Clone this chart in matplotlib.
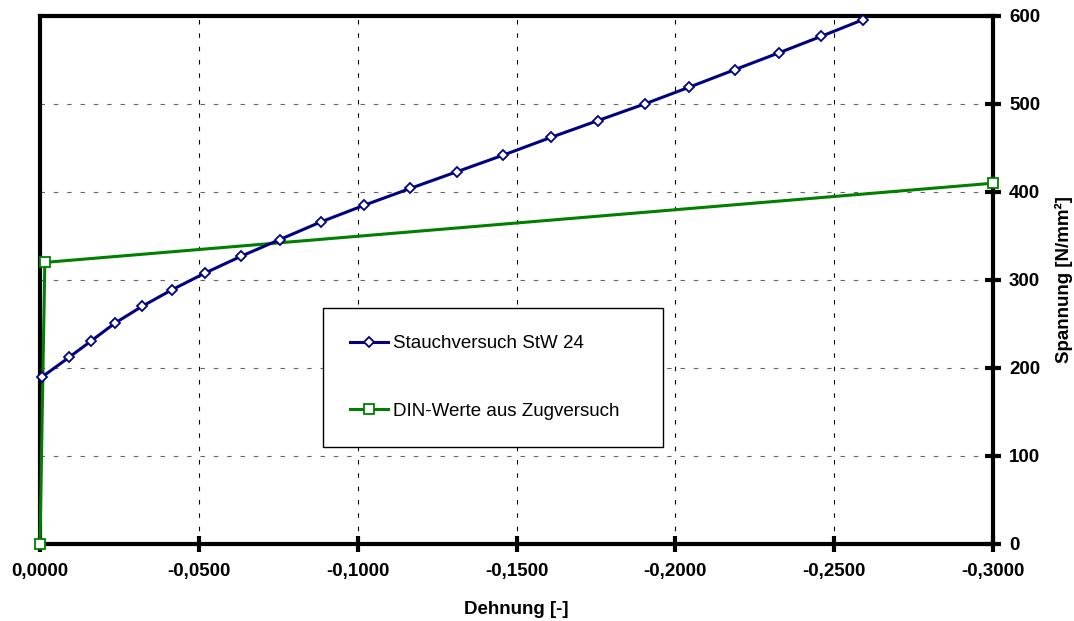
import numpy as np
import matplotlib
matplotlib.use("Agg")
import matplotlib.pyplot as plt
from matplotlib.ticker import FuncFormatter

# Stauchversuch StW 24 (Dehnung [-], Spannung [N/mm²])
dehnung_stauch = [-0.0007, -0.0091, -0.0162, -0.0236, -0.0321, -0.0416, -0.0520,
                  -0.0633, -0.0755, -0.0884, -0.1021, -0.1165, -0.1312, -0.1459,
                  -0.1608, -0.1755, -0.1903, -0.2043, -0.2187, -0.2325, -0.2460,
                  -0.2592]
spannung_stauch = [190, 212, 231, 251, 270, 289, 308, 327, 346, 366, 385, 404,
                   423, 442, 462, 481, 500, 519, 539, 558, 577, 596]

# DIN-Werte aus Zugversuch
dehnung_din = [0.0, -0.00152, -0.3]
spannung_din = [0, 320, 410]

x_ticks = [0.0, -0.05, -0.1, -0.15, -0.2, -0.25, -0.3]
y_ticks = [0, 100, 200, 300, 400, 500, 600]

plt.rcParams['font.family'] = ['Liberation Sans', 'DejaVu Sans']

fig = plt.figure(figsize=(10.74, 6.21), dpi=100)
ax = fig.add_axes([40 / 1074, 77 / 621, 953 / 1074, 528 / 621])

ax.plot(dehnung_stauch, spannung_stauch, '-D', color='#000080', lw=2.2,
        ms=5.5, mfc='white', mec='#000080', mew=1.3,
        label='Stauchversuch StW 24', zorder=4, clip_on=False)
ax.plot(dehnung_din, spannung_din, '-s', color='#008000', lw=2.2,
        ms=6.5, mfc='white', mec='#008000', mew=1.3,
        label='DIN-Werte aus Zugversuch', zorder=3, clip_on=False)

ax.set_xlim(0, -0.3)
ax.set_ylim(0, 600)
ax.set_xticks(x_ticks)
ax.set_yticks(y_ticks)
ax.xaxis.set_major_formatter(FuncFormatter(lambda v, p: f'{v:.4f}'.replace('.', ',').replace('-0,0000', '0,0000')))

ax.yaxis.tick_right()
ax.yaxis.set_label_position('right')

for s in ax.spines.values():
    s.set_linewidth(3)
    s.set_color('black')

ax.tick_params(axis='both', direction='inout', length=11, width=3,
               labelsize=13.5)
ax.tick_params(axis='x', pad=8)
ax.tick_params(axis='y', pad=6)
for lab in ax.get_xticklabels() + ax.get_yticklabels():
    lab.set_fontweight('bold')

ax.xaxis.grid(True, linestyle=(0, (4, 8)), color='black', lw=0.8)
ax.yaxis.grid(True, linestyle=(0, (4, 8)), color='#666666', lw=0.8)
ax.set_axisbelow(True)

ax.set_xlabel('Dehnung [-]', fontsize=13.5, fontweight='bold', labelpad=15)
ax.set_ylabel('Spannung [N/mm²]', fontsize=13.5, fontweight='bold', labelpad=11)

leg = ax.legend(loc='upper left', bbox_to_anchor=(0.297, 0.186, 0.357, 0.261),
                mode='expand', fontsize=13.5, handlelength=2.0,
                handletextpad=0.3, labelspacing=2.7, borderpad=1.45,
                borderaxespad=0, fancybox=False, framealpha=1,
                edgecolor='black')
leg.get_frame().set_linewidth(1.0)

fig.savefig('out.png', dpi=100)
